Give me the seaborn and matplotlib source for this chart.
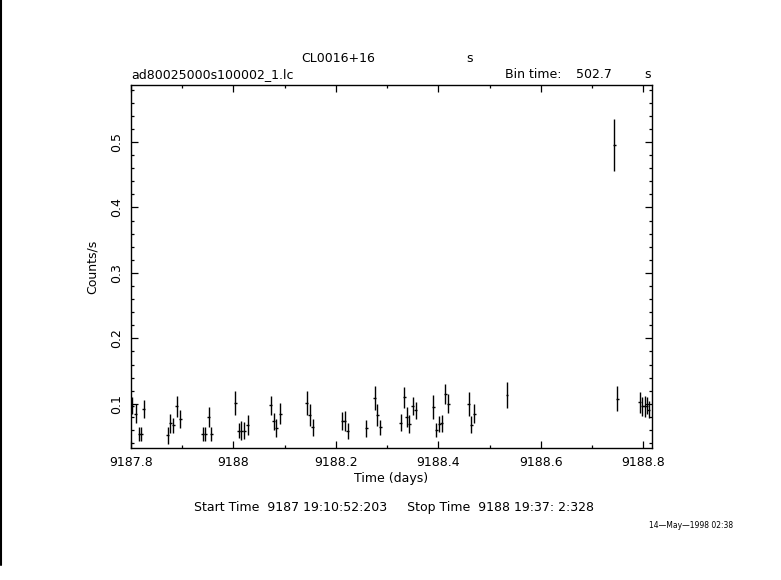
#!/usr/bin/env python

# Light curve of CL0016+16 (ad80025000s100002_1.lc), PGPLOT-like layout

import numpy as np
import pandas as pd
from matplotlib import pyplot as plt
import seaborn as sns

# Bin centres (days), count rates and 1-sigma errors
time_days = [9187.8025, 9187.809, 9187.816, 9187.820, 9187.825,
             9187.872, 9187.877, 9187.883, 9187.889, 9187.896,
             9187.940, 9187.945, 9187.952, 9187.957,
             9188.004, 9188.010, 9188.015, 9188.021, 9188.028,
             9188.073, 9188.079, 9188.084, 9188.091,
             9188.143, 9188.149, 9188.155,
             9188.212, 9188.217, 9188.223,
             9188.259, 9188.276, 9188.281, 9188.287,
             9188.327, 9188.333, 9188.338, 9188.343, 9188.350, 9188.356,
             9188.390, 9188.396, 9188.402, 9188.407, 9188.413, 9188.419,
             9188.459, 9188.464, 9188.470,
             9188.534,
             9188.743, 9188.749,
             9188.793, 9188.798, 9188.803, 9188.807, 9188.811]
rate = [0.097, 0.085, 0.054, 0.054, 0.092,
        0.052, 0.070, 0.067, 0.096, 0.077,
        0.054, 0.054, 0.080, 0.054,
        0.101, 0.059, 0.059, 0.059, 0.068,
        0.098, 0.073, 0.063, 0.085,
        0.101, 0.083, 0.064,
        0.074, 0.074, 0.058,
        0.063, 0.109, 0.083, 0.064,
        0.071, 0.110, 0.080, 0.069, 0.097, 0.090,
        0.095, 0.060, 0.069, 0.070, 0.115, 0.100,
        0.100, 0.068, 0.085,
        0.114,
        0.495, 0.108,
        0.102, 0.096, 0.096, 0.097, 0.091]
rate_err = [0.013, 0.014, 0.011, 0.011, 0.014,
            0.013, 0.015, 0.011, 0.016, 0.014,
            0.011, 0.011, 0.015, 0.011,
            0.0185, 0.011, 0.014, 0.013, 0.015,
            0.0145, 0.013, 0.014, 0.0165,
            0.018, 0.0165, 0.013,
            0.014, 0.015, 0.012,
            0.013, 0.018, 0.0165, 0.011,
            0.013, 0.016, 0.015, 0.014, 0.0135, 0.013,
            0.018, 0.011, 0.012, 0.013, 0.015, 0.0147,
            0.018, 0.013, 0.015,
            0.020,
            0.040, 0.0196,
            0.0157, 0.014, 0.0165, 0.0127, 0.0127]

bin_time = 502.7  # s
half_bin = bin_time / 86400.0 / 2

df = pd.DataFrame({'Time (days)': time_days, 'Counts/s': rate, 'err': rate_err})

sns.set_style('ticks')
plt.rcParams['font.family'] = ['DejaVu Sans']
plt.rcParams['text.color'] = 'black'
plt.rcParams['axes.labelcolor'] = 'black'
plt.rcParams['xtick.color'] = 'black'
plt.rcParams['ytick.color'] = 'black'

fig = plt.figure(figsize=(7.81, 5.80), dpi=100)
ax = fig.add_axes([0.1677, 0.2276, 0.6671, 0.6258])

ax.errorbar(df['Time (days)'], df['Counts/s'], yerr=df['err'], xerr=half_bin,
            fmt='none', ecolor='black', elinewidth=1.0, capsize=0)

ax.set_xlim(9187.8, 9188.817)
ax.set_ylim(0.0325, 0.587)
ax.set_xticks([9187.8, 9188.0, 9188.2, 9188.4, 9188.6, 9188.8])
ax.set_xticklabels(['9187.8', '9188', '9188.2', '9188.4', '9188.6', '9188.8'])
ax.set_xticks(np.arange(9187.8, 9188.85, 0.1), minor=True)
ax.set_yticks([0.1, 0.2, 0.3, 0.4, 0.5])
ax.set_yticks(np.arange(0.04, 0.59, 0.02), minor=True)
for lab in ax.get_yticklabels():
    lab.set_rotation(90)
    lab.set_va('center')

ax.tick_params(which='both', direction='in', top=True, right=True,
               color='black', labelcolor='black', labelsize=9, width=0.9)
ax.tick_params(which='major', length=5, pad=6)
ax.tick_params(which='minor', length=2.5)
for s in ax.spines.values():
    s.set_color('black')
    s.set_linewidth(1.0)

ax.set_xlabel('Time (days)', fontsize=9, labelpad=2)
ax.set_ylabel('Counts/s', fontsize=9, labelpad=8)

# header and footer texts
fig.text(338 / 781, 1 - 58 / 580, 'CL0016+16', ha='center', va='center', fontsize=9)
fig.text(470 / 781, 1 - 58 / 580, 's', ha='center', va='center', fontsize=9)
fig.text(131 / 781, 1 - 75 / 580, 'ad80025000s100002_1.lc', ha='left', va='center', fontsize=9)
fig.text(505 / 781, 1 - 75 / 580, 'Bin time:', ha='left', va='center', fontsize=9)
fig.text(612 / 781, 1 - 75 / 580, '502.7', ha='right', va='center', fontsize=9)
fig.text(648 / 781, 1 - 75 / 580, 's', ha='center', va='center', fontsize=9)
fig.text(194 / 781, 1 - 508 / 580,
         'Start Time  9187 19:10:52:203     Stop Time  9188 19:37: 2:328',
         ha='left', va='center', fontsize=9)
fig.text(733 / 781, 1 - 525 / 580, '14\u2014May\u20141998 02:38',
         ha='right', va='center', fontsize=5.5)

# left page border line
fig.add_artist(plt.Line2D([0.0015, 0.0015], [1 - 565 / 580, 1.0],
                          transform=fig.transFigure, color='black', lw=1.5))

plt.savefig('out.png', dpi=100)
